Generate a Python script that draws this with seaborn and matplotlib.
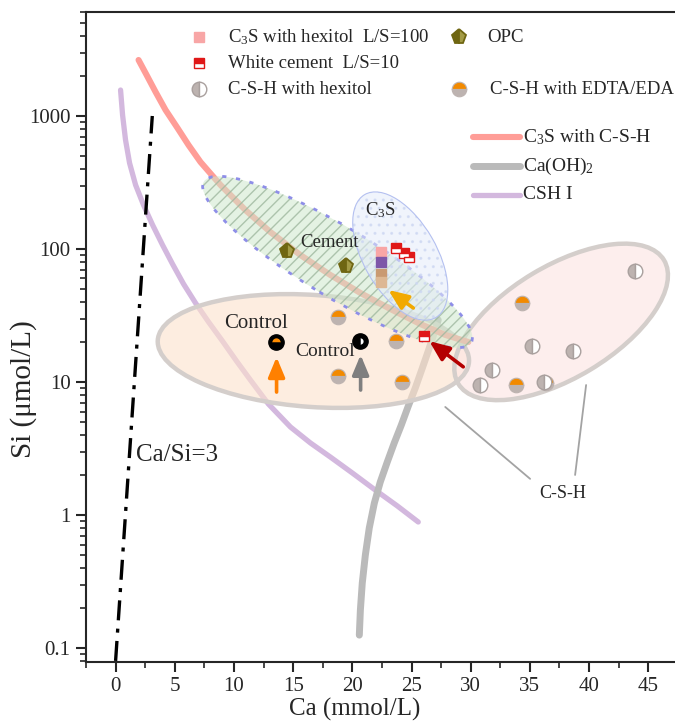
import numpy as np
import pandas as pd
import matplotlib
matplotlib.use("Agg")
import matplotlib.pyplot as plt
import seaborn as sns
from matplotlib.patches import Ellipse
from matplotlib.transforms import ScaledTranslation
from matplotlib.ticker import FixedLocator, FixedFormatter, LogLocator, NullFormatter

# ---------------- data ----------------
# solubility curves (Ca in mmol/L, Si in umol/L)
c3s_csh_ca = [1.94, 2.62, 3.38, 4.22, 5.23, 6.16, 7.17, 8.86, 10.97, 13.08,
              15.61, 18.14, 20.68, 23.21, 25.74, 27.85, 29.79]
c3s_csh_si = [2636, 2033, 1515, 1110, 812, 605, 451, 303, 196, 134,
              90.1, 63.8, 46.7, 35.4, 27.3, 22.6, 20.0]

caoh2_ca = [20.59, 20.68, 20.84, 21.10, 21.43, 21.86, 22.36, 22.95, 23.54,
            24.14, 24.73, 25.32, 25.91, 26.50, 26.92, 27.26]
caoh2_si = [0.125, 0.193, 0.308, 0.500, 0.798, 1.23, 1.77, 2.50, 3.48,
            4.75, 6.60, 9.02, 12.7, 18.0, 23.4, 29.3]

cshI_ca = [0.42, 0.59, 0.84, 1.18, 1.69, 2.36, 3.12, 3.97, 4.81, 5.74, 6.75,
           7.85, 9.03, 10.21, 11.39, 12.91, 14.77, 16.46, 18.14, 20.0, 21.94,
           23.80, 25.57]
cshI_si = [1567, 1017, 660, 443, 303, 214, 152, 107, 77.1, 54.6, 39.3,
           28.3, 20.3, 14.4, 10.35, 6.83, 4.59, 3.48, 2.73, 2.07, 1.54,
           1.17, 0.886]

ratio3_ca = [0.0, 3.1]
ratio3_si = [0.08, 1000]

# measured points
c3s_hex_ca = [22.4, 22.4, 22.4, 22.4]
c3s_hex_si = [95, 79.8, 64.9, 56.5]
c3s_hex_colors = ["#f8a6a6", "#7e57a8", "#c99a72", "#ddb894"]

white_ca = [23.71, 24.39, 24.81, 26.08]
white_si = [101.8, 93.3, 87.1, 22.2]

opc_ca = [14.51, 19.49]
opc_si = [96.6, 74.5]

csh_hex_ca = [43.9, 35.15, 38.66, 31.81, 30.79, 36.21]
csh_hex_si = [68.9, 18.8, 17.0, 12.4, 9.42, 9.93]

csh_edta_ca = [18.82, 23.71, 18.82, 24.22, 34.3, 33.8, 36.4]
csh_edta_si = [30.8, 20.3, 11.1, 10.0, 39.3, 9.42, 9.8]

control_ca = [13.59, 20.68]
control_si = [20.0, 20.3]

# ---------------- style ----------------
sns.set_style("ticks")
plt.rcParams['font.family'] = ['Liberation Serif', 'DejaVu Serif']
plt.rcParams['mathtext.fontset'] = 'custom'
plt.rcParams['mathtext.rm'] = 'Liberation Serif'
plt.rcParams['mathtext.it'] = 'Liberation Serif:italic'
plt.rcParams['hatch.linewidth'] = 1.0

fig = plt.figure(figsize=(6.75, 7.23), dpi=100)
ax = fig.add_axes([86 / 675, 1 - 662 / 723, 589 / 675, 650 / 723])
ax.set_yscale('log')
ax.set_xlim(-2.5, 47.26)
ax.set_ylim(0.0785, 6050)


def ellipse(cx, cy, w_in, h_in, angle, **kw):
    """Ellipse centred on a data point, sized in inches."""
    tr = fig.dpi_scale_trans + ScaledTranslation(cx, cy, ax.transData)
    e = Ellipse((0, 0), w_in, h_in, angle=angle, transform=tr, **kw)
    ax.add_patch(e)
    return e


# ---------------- curves ----------------
def curve(xs, ys, color, lw, **kw):
    df = pd.DataFrame({"Ca": xs, "Si": ys})
    sns.lineplot(data=df, x="Ca", y="Si", ax=ax, sort=False, estimator=None,
                 color=color, lw=lw, solid_capstyle='round',
                 solid_joinstyle='round', **kw)


curve(cshI_ca, cshI_si, "#d3b8de", 3.8, zorder=2)
curve(caoh2_ca, caoh2_si, "#bababa", 5.0, zorder=2)
curve(c3s_csh_ca, c3s_csh_si, "#ff9d97", 4.4, zorder=3)
ax.plot(ratio3_ca, ratio3_si, color="black", lw=2.4,
        dashes=(6, 2.5, 1.2, 2.5), zorder=4)

# ---------------- shaded regions ----------------
ellipse(16.71, 17.1, 3.12, 1.12, -4, facecolor="#fde2cc", alpha=0.6,
        edgecolor="none", zorder=2.5)
ellipse(16.71, 17.1, 3.12, 1.12, -4, facecolor="none",
        edgecolor="#d4cecb", lw=3.2, zorder=2.6)
ellipse(37.64, 28.3, 2.40, 1.12, 31, facecolor="#fde6e4", alpha=0.65,
        edgecolor="none", zorder=2.5)
ellipse(37.64, 28.3, 2.40, 1.12, 31, facecolor="none",
        edgecolor="#d4cecb", lw=3.2, zorder=2.6)

ellipse(18.75, 79.8, 3.12, 0.70, -31, facecolor="#cfe9cc", alpha=0.55,
        edgecolor="none", zorder=3.5)
ellipse(18.75, 79.8, 3.12, 0.70, -31, facecolor="none", hatch="///",
        edgecolor="#9fb89f", lw=0, alpha=0.8, zorder=3.6)
ellipse(18.75, 79.8, 3.12, 0.70, -31, facecolor="none",
        edgecolor="#8e8ee8", lw=2.0, linestyle=(0, (1.5, 3.5)), zorder=3.7)

ellipse(24.05, 88.5, 1.42, 0.73, -60, facecolor="#e4ecfa", alpha=0.55,
        edgecolor="none", zorder=3.8)
ellipse(24.05, 88.5, 1.42, 0.73, -60, facecolor="none", hatch="..",
        edgecolor="#cdd7f2", lw=0, alpha=0.7, zorder=3.85)
ellipse(24.05, 88.5, 1.42, 0.73, -60, facecolor="none",
        edgecolor="#b4c0f0", lw=0.8, zorder=3.9)

# ---------------- markers ----------------
for x, y, c in zip(c3s_hex_ca, c3s_hex_si, c3s_hex_colors):
    ax.plot(x, y, 's', ms=6.5, color=c, mec=c, zorder=6)

ax.plot(white_ca, white_si, 's', ls='none', ms=6.8, fillstyle='top',
        mfc="#e01818", markerfacecoloralt='white', mec="#e01818", mew=1.0, zorder=6)

ax.plot(opc_ca, opc_si, 'p', ls='none', ms=11, fillstyle='left',
        mfc="#6f6612", markerfacecoloralt="#a39b45", mec="#6f6612", mew=1.3, zorder=6)

ax.plot(csh_edta_ca, csh_edta_si, 'o', ls='none', ms=10.5, fillstyle='top',
        mfc="#f28a00", markerfacecoloralt="#bdb3b0", mec="#bdb3b0", mew=0.8, zorder=5.5)

ax.plot(csh_hex_ca, csh_hex_si, 'o', ls='none', ms=10.5, fillstyle='left',
        mfc="#bdb3b0", markerfacecoloralt="white", mec="#a9a09e", mew=1.0, zorder=6)

ax.plot(control_ca, control_si, 'o', ls='none', ms=11, color="black", zorder=6)
ax.plot(control_ca[0], control_si[0], 'o', ms=6, fillstyle='top', mfc="#ff8c00",
        markerfacecoloralt="black", mec="black", mew=0, zorder=6.5)
ax.plot(control_ca[1], control_si[1], 'o', ms=4.5, fillstyle='right', mfc="white",
        markerfacecoloralt="black", mec="black", mew=0, zorder=6.5)

# ---------------- arrows ----------------
def arrow(tail, tip, color):
    ax.annotate("", xy=tip, xytext=tail, zorder=7,
                arrowprops=dict(arrowstyle="-|>,head_width=0.25,head_length=0.6",
                                mutation_scale=20, color=color, lw=2.6,
                                shrinkA=0, shrinkB=0))


arrow((13.6, 8.4), (13.6, 15.4), "#ff8000")
arrow((20.7, 8.7), (20.7, 16.0), "#7f7f7f")
arrow((29.37, 13.0), (26.5, 20.3), "#b40000")
arrow((25.15, 36.0), (23.04, 49.2), "#f2a900")

# ---------------- annotations ----------------
ax.text(11.9, 27.3, "Control", fontsize=15, ha='center', va='center', zorder=8)
ax.text(17.72, 17.1, "Control", fontsize=14, ha='center', va='center', zorder=8)
ax.text(18.06, 111, "Cement", fontsize=13.5, ha='center', va='center', zorder=8)
ax.text(22.4, 196, r"C$_\mathregular{3}$S", fontsize=13.5, ha='center', va='center', zorder=8)
ax.text(1.7, 2.83, "Ca/Si=3", fontsize=18, ha='left', va='center', zorder=8)

ax.plot([27.85, 35.02], [6.49, 1.87], color="#a3a3a3", lw=1.3, zorder=2.7)
ax.plot([39.75, 38.82], [9.49, 2.0], color="#a3a3a3", lw=1.3, zorder=2.7)
ax.text(37.8, 1.46, "C-S-H", fontsize=13, ha='center', va='center')

# ---------------- legend ----------------
T = ax.transAxes
leg_fs = 13.5
rows = [0.9615, 0.9215, 0.8815]
mx1, tx1, mx2, tx2, tx3 = 0.192, 0.241, 0.634, 0.681, 0.686

ax.plot(mx1, rows[0], 's', ms=6.5, color="#f8a6a6", transform=T, clip_on=False)
ax.text(tx1, rows[0], r"C$_\mathregular{3}$S with hexitol  L/S=100", fontsize=leg_fs,
        va='center', transform=T)
ax.plot(mx2, rows[0], 'p', ms=11, fillstyle='left', mfc="#6f6612",
        markerfacecoloralt="#a39b45", mec="#6f6612", mew=1.3, transform=T, clip_on=False)
ax.text(tx2, rows[0], "OPC", fontsize=leg_fs, va='center', transform=T)

ax.plot(mx1, rows[1], 's', ms=6.8, fillstyle='top', mfc="#e01818",
        markerfacecoloralt='white', mec="#e01818", mew=1.0, transform=T, clip_on=False)
ax.text(tx1, rows[1], "White cement  L/S=10", fontsize=leg_fs, va='center', transform=T)

ax.plot(mx1, rows[2], 'o', ms=10.5, fillstyle='left', mfc="#bdb3b0",
        markerfacecoloralt="white", mec="#a9a09e", mew=1.0, transform=T, clip_on=False)
ax.text(tx1, rows[2], "C-S-H with hexitol", fontsize=leg_fs, va='center', transform=T)
ax.plot(mx2, rows[2], 'o', ms=10.5, fillstyle='top', mfc="#f28a00",
        markerfacecoloralt="#bdb3b0", mec="#bdb3b0", mew=0.8, transform=T, clip_on=False)
ax.text(tx3, rows[2], "C-S-H with EDTA/EDA", fontsize=leg_fs, va='center', transform=T)

line_rows = [0.807, 0.763, 0.719]
line_entries = [("#ff9d97", 4.4, r"C$_\mathregular{3}$S with C-S-H"),
                ("#bababa", 5.0, r"Ca(OH)$_\mathregular{2}$"),
                ("#d3b8de", 3.8, "CSH I")]
for yy, (c, lw, lab) in zip(line_rows, line_entries):
    ax.plot([0.657, 0.737], [yy, yy], color=c, lw=lw, solid_capstyle='round',
            transform=T, clip_on=False)
    ax.text(0.742, yy, lab, fontsize=14, va='center', transform=T)

# ---------------- axes ----------------
ax.set_xticks(np.arange(0, 50, 5))
ax.xaxis.set_minor_locator(FixedLocator(np.arange(-2.5, 47.5, 5)))
ax.yaxis.set_major_locator(FixedLocator([0.1, 1, 10, 100, 1000]))
ax.yaxis.set_major_formatter(FixedFormatter(["0.1", "1", "10", "100", "1000"]))
ax.yaxis.set_minor_locator(LogLocator(base=10, subs=np.arange(2, 10)))
ax.yaxis.set_minor_formatter(NullFormatter())
ax.tick_params(which='major', direction='out', length=7, width=1.5, labelsize=15, pad=4)
ax.tick_params(which='minor', direction='out', length=4, width=1.2)
for side in ['left', 'bottom', 'top']:
    ax.spines[side].set_linewidth(1.5)
    ax.spines[side].set_visible(True)
ax.spines['right'].set_visible(False)

ax.set_xlabel("Ca (mmol/L)", fontsize=18)
ax.set_ylabel("Si (μmol/L)", fontsize=21)
ax.xaxis.set_label_coords(0.457, -0.056)
ax.yaxis.set_label_coords(-0.083, 0.42)

fig.savefig("out.png", dpi=100)
